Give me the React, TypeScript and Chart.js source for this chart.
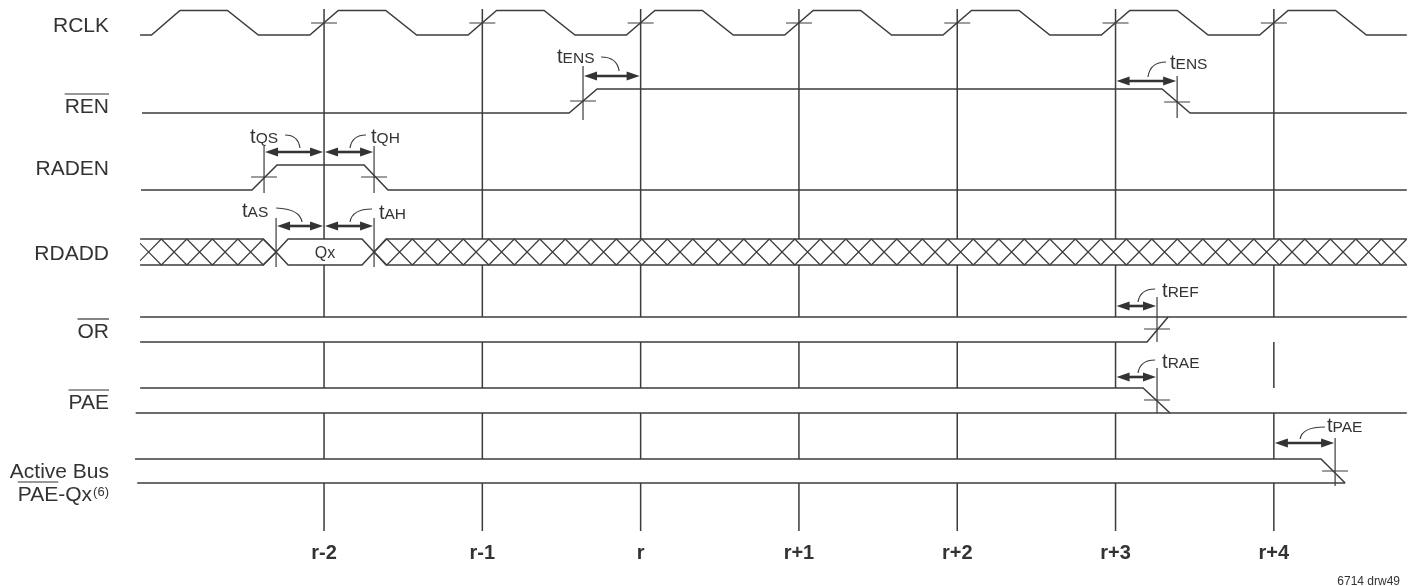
import React, { useEffect, useRef } from 'react';
import { Chart, registerables } from 'chart.js';

Chart.register(...registerables);

// ---------------- data (time in clock cycles from edge r-2, levels 0 = low, 1 = high) ----------------
const clockLabels = ['r-2', 'r-1', 'r', 'r+1', 'r+2', 'r+3', 'r+4'];
const clockEdges = [0, 1, 2, 3, 4, 5, 6];

const rclkTimes = [-1.162, -1.09, -0.91, -0.61, -0.415, -0.09, 0.09, 0.39, 0.585, 0.91, 1.09, 1.39, 1.585, 1.91, 2.09, 2.39, 2.585, 2.91, 3.09, 3.39, 3.585, 3.91, 4.09, 4.39, 4.585, 4.91, 5.09, 5.39, 5.585, 5.91, 6.09, 6.39, 6.585, 6.84];
const rclkLevels = [0, 0, 1, 1, 0, 0, 1, 1, 0, 0, 1, 1, 0, 0, 1, 1, 0, 0, 1, 1, 0, 0, 1, 1, 0, 0, 1, 1, 0, 0, 1, 1, 0, 0];

const renTimes = [-1.15, 1.548, 1.725, 5.294, 5.471, 6.84];
const renLevels = [0, 0, 1, 1, 0, 0];

const radenTimes = [-1.156, -0.455, -0.297, 0.253, 0.404, 6.84];
const radenLevels = [0, 0, 1, 1, 0, 0];

const rdaddLeftTimes = [-1.162, -0.385, -0.303, -0.385, -1.162];
const rdaddLeftLevels = [1, 1, 0.5, 0, 0];
const rdaddQxTimes = [-0.303, -0.227, 0.24, 0.316, 0.24, -0.227, -0.303];
const rdaddQxLevels = [0.5, 1, 1, 0.5, 0, 0, 0.5];
const rdaddRightTimes = [6.84, 0.392, 0.316, 0.392, 6.84];
const rdaddRightLevels = [1, 1, 0.5, 0, 0];
const rdaddHatchFrom = [-1.162, 0.316];
const rdaddHatchTo = [-0.303, 6.84];
const rdaddHatchAnchor = [-0.303, 0.316];
const rdaddValue = 'Qx';

const orHighTimes = [-1.162, 6.84];
const orHighLevels = [1, 1];
const orLowTimes = [-1.162, 5.199, 5.332];
const orLowLevels = [0, 0, 1];

const paeHighTimes = [-1.162, 5.174, 5.344];
const paeHighLevels = [1, 1, 0];
const paeLowTimes = [-1.19, 6.84];
const paeLowLevels = [0, 0];

const busHighTimes = [-1.194, 6.298, 6.45];
const busHighLevels = [1, 1, 0];
const busLowTimes = [-1.18, 6.45];
const busLowLevels = [0, 0];

// timing parameters: subscript name, arrow start/end time
const timingNames = ['ENS', 'ENS', 'QS', 'QH', 'AS', 'AH', 'REF', 'RAE', 'PAE'];
const timingStart = [1.636, 5.0, -0.379, 0, -0.303, 0, 5.0, 5.0, 6.0];
const timingEnd = [2.0, 5.389, 0, 0.316, 0, 0.316, 5.262, 5.262, 6.387];

// transition markers (time)
const markerTimes = [1.636, 5.389, -0.379, 0.316, -0.303, 0.316, 5.262, 5.262, 6.387];

const footnote = '6714 drw49';

// ---------------- layout / style (not data) ----------------
const LINE = '#3c3c3c';
const INK = '#333333';
const FONT = '"Liberation Sans", Arial, Helvetica, sans-serif';
const X_MIN = -2.047;
const X_MAX = 6.898;
const Y_MAX = 531;
const rows: Record<string, [number, number]> = {
  RCLK: [35, 10.5],
  REN: [113, 89],
  RADEN: [190, 165],
  RDADD: [265, 239],
  OR: [342, 317],
  PAE: [413, 388],
  BUS: [483, 459],
};
const clockLineTop = 9;
const bandGaps: [number, number][] = [[239, 265], [317, 342], [388, 413], [459, 483]];
const markerSpan: [number, number][] = [[66, 120], [76, 118], [146, 193], [146, 193], [218, 267], [218, 267], [297, 342], [368, 413], [438, 486]];
const markerTickY: (number | null)[] = [101, 102, 177, 177, null, null, 329, 400, 471];
const clockTickY = 23;
const tickHalf = 0.082;

const arrowY = [76, 81, 152, 152, 226, 226, 306, 377, 443];
const labelT = [1.472, 5.344, -0.467, 0.297, -0.518, 0.347, 5.294, 5.294, 6.336];
const labelBase = [63, 69, 143, 143, 217, 219, 297, 368, 432];
// leader curves: [t0, y0, tc, yc, t1, y1]
const leaders: number[][] = [
  [1.75, 57, 1.851, 57, 1.864, 71],
  [5.319, 62, 5.218, 62, 5.205, 77],
  [-0.246, 135, -0.164, 135, -0.152, 148],
  [0.265, 135, 0.177, 135, 0.164, 148],
  [-0.303, 208, -0.152, 209, -0.139, 222],
  [0.303, 209, 0.177, 209, 0.164, 222],
  [5.25, 289, 5.155, 289, 5.142, 302],
  [5.25, 360, 5.155, 360, 5.142, 373],
  [6.323, 427, 6.178, 427, 6.166, 439],
];

type SignalLabel = { text: string; base: number; over?: boolean };
const signalLabels: SignalLabel[] = [
  { text: 'RCLK', base: 32 },
  { text: 'REN', base: 113, over: true },
  { text: 'RADEN', base: 175 },
  { text: 'RDADD', base: 260 },
  { text: 'OR', base: 338, over: true },
  { text: 'PAE', base: 409, over: true },
  { text: 'Active Bus', base: 478 },
];

function wave(row: string, times: number[], levels: number[]) {
  const [lo, hi] = rows[row];
  return times.map((t, i) => ({ x: t, y: lo + (hi - lo) * levels[i] }));
}

function lineSet(data: any[], width = 1.5) {
  return {
    data,
    showLine: true,
    borderColor: LINE,
    borderWidth: width,
    pointRadius: 0,
    pointHoverRadius: 0,
    tension: 0,
    spanGaps: false,
    fill: false,
    clip: false as any,
  };
}

function clockLinePoints() {
  const pts: any[] = [];
  clockEdges.forEach((t) => {
    let y = clockLineTop;
    bandGaps.forEach(([a, b]) => {
      pts.push({ x: t, y }, { x: t, y: a }, { x: t, y: null });
      y = b;
    });
    pts.push({ x: t, y }, { x: t, y: Y_MAX }, { x: t, y: null });
  });
  return pts;
}

function markerPoints() {
  const pts: any[] = [];
  markerTimes.forEach((t, i) => {
    const [a, b] = markerSpan[i];
    pts.push({ x: t, y: a }, { x: t, y: b }, { x: t, y: null });
    const ty = markerTickY[i];
    if (ty !== null) pts.push({ x: t - tickHalf, y: ty }, { x: t + tickHalf, y: ty }, { x: t, y: null });
  });
  clockEdges.forEach((t) => {
    pts.push({ x: t - tickHalf, y: clockTickY }, { x: t + tickHalf, y: clockTickY }, { x: t, y: null });
  });
  return pts;
}

const decorPlugin = {
  id: 'timingDecor',
  afterDatasetsDraw(chart: any) {
    const ctx: CanvasRenderingContext2D = chart.ctx;
    const xs = chart.scales.x;
    const ys = chart.scales.y;
    const X = (t: number) => xs.getPixelForValue(t);
    const Y = (v: number) => ys.getPixelForValue(v);
    ctx.save();

    // RDADD hatch
    const [lo, hi] = rows.RDADD;
    const top = Y(hi);
    const bot = Y(lo);
    const pitch = 25.5;
    ctx.strokeStyle = LINE;
    ctx.lineWidth = 1.2;
    rdaddHatchFrom.forEach((f, i) => {
      const x0 = X(f);
      const x1 = X(rdaddHatchTo[i]);
      const anchor = X(rdaddHatchAnchor[i]);
      ctx.save();
      ctx.beginPath();
      ctx.rect(x0, top - 2, x1 - x0, bot - top + 4);
      ctx.clip();
      ctx.beginPath();
      const dir = anchor <= x0 + 1 ? 1 : -1;
      for (let c = anchor; dir > 0 ? c - pitch / 2 < x1 : c + pitch / 2 > x0; c += dir * pitch) {
        ctx.moveTo(c - pitch / 2, top);
        ctx.lineTo(c + pitch / 2, bot);
        ctx.moveTo(c - pitch / 2, bot);
        ctx.lineTo(c + pitch / 2, top);
      }
      ctx.stroke();
      ctx.restore();
    });

    // Qx label
    ctx.fillStyle = INK;
    ctx.font = `16px ${FONT}`;
    ctx.textAlign = 'center';
    ctx.textBaseline = 'alphabetic';
    ctx.fillText(rdaddValue, X((rdaddHatchAnchor[0] + rdaddHatchAnchor[1]) / 2), Y(lo) - 7);

    // timing arrows
    timingNames.forEach((name, i) => {
      const xa = X(timingStart[i]) + 1;
      const xb = X(timingEnd[i]) - 1;
      const y = arrowY[i];
      const hl = 13;
      const hw = 4.6;
      ctx.strokeStyle = INK;
      ctx.fillStyle = INK;
      ctx.lineWidth = 2.6;
      ctx.beginPath();
      ctx.moveTo(xa + hl - 2, y);
      ctx.lineTo(xb - hl + 2, y);
      ctx.stroke();
      ctx.beginPath();
      ctx.moveTo(xa, y);
      ctx.lineTo(xa + hl, y - hw);
      ctx.lineTo(xa + hl, y + hw);
      ctx.closePath();
      ctx.fill();
      ctx.beginPath();
      ctx.moveTo(xb, y);
      ctx.lineTo(xb - hl, y - hw);
      ctx.lineTo(xb - hl, y + hw);
      ctx.closePath();
      ctx.fill();

      // leader
      const L = leaders[i];
      ctx.lineWidth = 1.2;
      ctx.strokeStyle = LINE;
      ctx.beginPath();
      ctx.moveTo(X(L[0]), Y(L[1]));
      ctx.quadraticCurveTo(X(L[2]), Y(L[3]), X(L[4]), Y(L[5]));
      ctx.stroke();

      // label t + subscript
      ctx.fillStyle = INK;
      ctx.textAlign = 'left';
      ctx.textBaseline = 'alphabetic';
      const lx = X(labelT[i]);
      ctx.font = `20px ${FONT}`;
      ctx.fillText('t', lx, labelBase[i]);
      const tw = ctx.measureText('t').width;
      ctx.font = `15.5px ${FONT}`;
      ctx.fillText(name, lx + tw, labelBase[i]);
    });

    // signal names
    ctx.fillStyle = INK;
    ctx.strokeStyle = INK;
    ctx.lineWidth = 1.2;
    ctx.textAlign = 'right';
    ctx.font = `21px ${FONT}`;
    const rx = 109;
    signalLabels.forEach((s) => {
      ctx.fillText(s.text, rx, s.base);
      if (s.over) {
        const w = ctx.measureText(s.text).width;
        ctx.beginPath();
        ctx.moveTo(rx - w, s.base - 19);
        ctx.lineTo(rx, s.base - 19);
        ctx.stroke();
      }
    });
    // second line of Active Bus label: PAE-Qx(6)
    ctx.font = `13px ${FONT}`;
    const supW = ctx.measureText('(6)').width;
    ctx.fillText('(6)', rx, 496);
    ctx.font = `21px ${FONT}`;
    const mainX = rx - supW - 1;
    ctx.fillText('PAE-Qx', mainX, 501);
    const fullW = ctx.measureText('PAE-Qx').width;
    const paeW = ctx.measureText('PAE').width;
    ctx.beginPath();
    ctx.moveTo(mainX - fullW, 482);
    ctx.lineTo(mainX - fullW + paeW, 482);
    ctx.stroke();

    // footnote
    ctx.font = `12px ${FONT}`;
    ctx.textAlign = 'right';
    ctx.fillText(footnote, 1400, 585);

    ctx.restore();
  },
};

export default function App() {
  const ref = useRef<HTMLCanvasElement>(null);
  useEffect(() => {
    document.body.style.margin = '0';
    const datasets = [
      lineSet(clockLinePoints(), 1.5),
      lineSet(wave('RCLK', rclkTimes, rclkLevels)),
      lineSet(wave('REN', renTimes, renLevels)),
      lineSet(wave('RADEN', radenTimes, radenLevels)),
      lineSet(wave('RDADD', rdaddLeftTimes, rdaddLeftLevels)),
      lineSet(wave('RDADD', rdaddQxTimes, rdaddQxLevels)),
      lineSet(wave('RDADD', rdaddRightTimes, rdaddRightLevels)),
      lineSet(wave('OR', orHighTimes, orHighLevels)),
      lineSet(wave('OR', orLowTimes, orLowLevels)),
      lineSet(wave('PAE', paeHighTimes, paeHighLevels)),
      lineSet(wave('PAE', paeLowTimes, paeLowLevels)),
      lineSet(wave('BUS', busHighTimes, busHighLevels)),
      lineSet(wave('BUS', busLowTimes, busLowLevels)),
      lineSet(markerPoints(), 1.2),
    ];
    const chart = new Chart(ref.current as HTMLCanvasElement, {
      type: 'scatter',
      data: { datasets } as any,
      options: {
        responsive: false,
        animation: false,
        devicePixelRatio: 1,
        layout: { padding: 0 },
        plugins: { legend: { display: false }, tooltip: { enabled: false } },
        events: [],
        scales: {
          x: {
            type: 'linear',
            position: 'bottom',
            min: X_MIN,
            max: X_MAX,
            afterBuildTicks: (s: any) => {
              s.ticks = clockEdges.map((v) => ({ value: v }));
            },
            afterFit: (s: any) => {
              s.height = 586 - Y_MAX;
              s.paddingLeft = 0;
              s.paddingRight = 0;
            },
            grid: { display: false, drawTicks: false },
            border: { display: false },
            ticks: {
              autoSkip: false,
              maxRotation: 0,
              padding: 10,
              color: INK,
              font: { family: FONT, size: 20, weight: 'bold' },
              callback: (_v: any, i: number) => clockLabels[i],
            },
          },
          y: { type: 'linear', display: false, min: 0, max: Y_MAX, reverse: true },
        },
      } as any,
      plugins: [decorPlugin],
    });
    return () => chart.destroy();
  }, []);
  return (
    <div style={{ position: 'fixed', left: 0, top: 0, width: 1416, height: 586, background: '#fff' }}>
      <canvas ref={ref} width={1416} height={586} style={{ display: 'block', width: 1416, height: 586 }} />
    </div>
  );
}
